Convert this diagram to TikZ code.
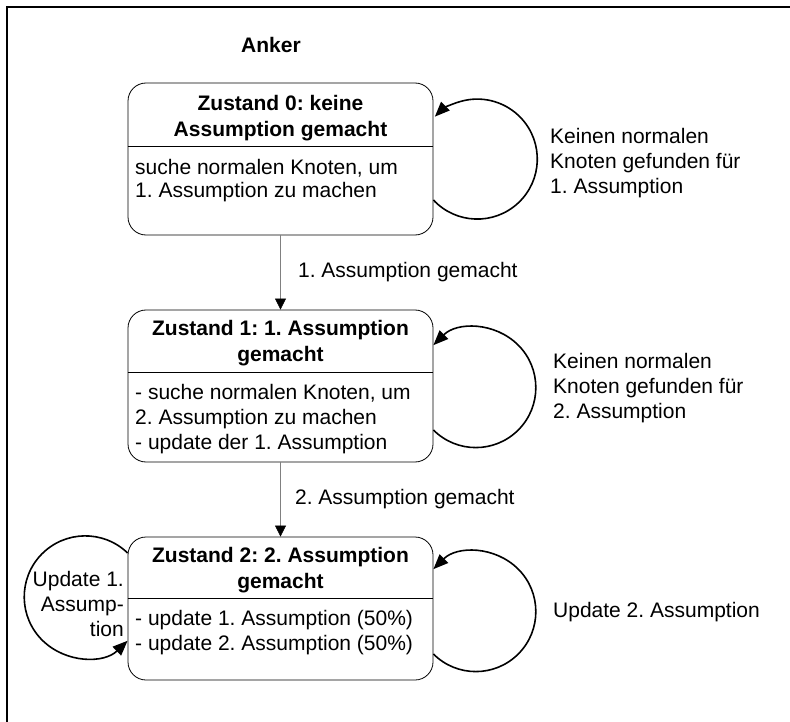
\documentclass[tikz,border=0pt]{standalone}
\usepackage{fontspec}
\setmainfont{Liberation Sans}
\usetikzlibrary{arrows.meta,positioning}

\newcommand{\schrift}{\fontsize{21}{25}\selectfont\frenchspacing}

\tikzset{
  zustand/.style={draw, rounded corners=18pt, minimum width=305pt, line width=0.8pt},
  titel/.style={font=\schrift\bfseries\fontsize{21}{26}\selectfont, align=center},
  inhalt/.style={align=left, anchor=north west, inner sep=0pt},
  uebergang/.style={draw=gray, line width=0.6pt, -{Triangle[length=11pt,width=11pt,color=black]}},
  schleife/.style={line width=1.6pt, -{Triangle[length=15pt,width=12pt]}},
  beschriftung/.style={align=left, anchor=west, inner sep=0pt}
}

\begin{document}
\begin{tikzpicture}[x=1pt,y=1pt,every node/.style={font=\schrift}]
  \useasboundingbox (0,0) rectangle (790,-722);
  % Rahmen
  \draw[line width=2.5pt] (7,-730) -- (7,-7) -- (800,-7);

  \node[font=\schrift\bfseries] (anker) at (271,-45) {Anker};

  % Zustand 0
  \node[zustand, minimum height=152pt] (z0) at (280.5,-159) {};
  \node[titel] (z0titel) at (280.5,-117.7) {Zustand 0: keine\\Assumption gemacht};
  \draw (z0.west |- 0,-146) -- (z0.east |- 0,-146);
  \node[inhalt] (z0text) at (135,-158.7) {suche normalen Knoten, um\\[-2pt]1. Assumption zu machen};

  % Zustand 1
  \node[zustand, minimum height=152pt] (z1) at (280.5,-386) {};
  \node[titel] (z1titel) at (280.5,-343.2) {Zustand 1: 1. Assumption\\gemacht};
  \draw (z1.west |- 0,-372) -- (z1.east |- 0,-372);
  \node[inhalt] (z1text) at (135,-383.7) {- suche normalen Knoten, um\\2. Assumption zu machen\\- update der 1. Assumption};

  % Zustand 2
  \node[zustand, minimum height=143pt] (z2) at (280.5,-608.5) {};
  \node[titel] (z2titel) at (280.5,-570.2) {Zustand 2: 2. Assumption\\gemacht};
  \draw (z2.west |- 0,-598) -- (z2.east |- 0,-598);
  \node[inhalt] (z2text) at (135,-609.7) {- update 1. Assumption (50\%)\\- update 2. Assumption (50\%)};

  % Uebergaenge
  \draw[uebergang] (z0) -- (z1)
    node[midway, anchor=west, xshift=14pt] (a01) {1. Assumption gemacht};
  \draw[uebergang] (z1) -- (z2)
    node[midway, anchor=west, xshift=11pt] (a12) {2. Assumption gemacht};

  % Schleifen
  \draw[schleife] ([yshift=-41pt]z0.east) arc[start angle=223, end angle=495, radius=60pt];
  \node[beschriftung] (s0) at (550,-163) {Keinen normalen\\Knoten gefunden für\\1. Assumption};

  \draw[schleife] ([yshift=-44pt]z1.east) arc[start angle=225, end angle=495, radius=60pt];
  \node[beschriftung] (s1) at (553,-388) {Keinen normalen\\Knoten gefunden für\\2. Assumption};

  \draw[schleife] ([yshift=-45.5pt]z2.east) arc[start angle=225, end angle=495, radius=60pt];
  \node[beschriftung] (s2) at (553,-612) {Update 2. Assumption};

  \draw[schleife] ([yshift=55.5pt]z2.west) arc[start angle=46, end angle=314, radius=61pt];
  \node[align=right, anchor=east, inner sep=0pt] (s3) at (124,-604) {Update 1.\\Assump-\\tion};
\end{tikzpicture}
\end{document}
